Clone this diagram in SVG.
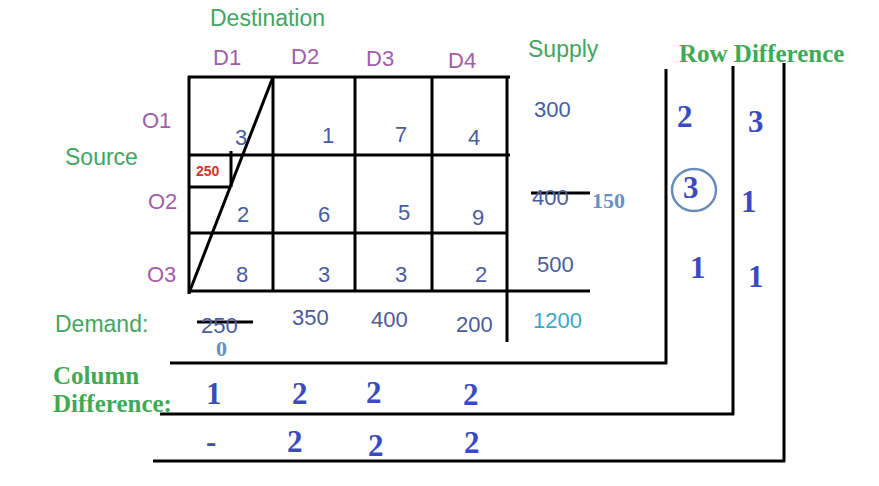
<svg xmlns="http://www.w3.org/2000/svg" width="879" height="486" viewBox="0 0 879 486">
<style>
.lbl{font-family:"Liberation Sans",Arial,sans-serif;font-size:23px;fill:#45a45f}
.hd{font-family:"Liberation Sans",Arial,sans-serif;font-size:22px;fill:#a35ca8}
.num{font-family:"Liberation Sans",Arial,sans-serif;font-size:22px;fill:#4b5c9e}
.bg{font-family:"Liberation Serif","Times New Roman",serif;font-weight:bold;font-size:25px;fill:#3faa55}
.bd{font-family:"Liberation Serif","Times New Roman",serif;font-weight:bold;font-size:31px;fill:#3a4bbf}
.lt{font-family:"Liberation Serif","Times New Roman",serif;font-weight:bold;font-size:22px;fill:#6b8fc0}
.ln{stroke:#000;stroke-width:3;fill:none}
</style>
<rect width="879" height="486" fill="#fff"/>
<g id="connectors">
<path class="ln" d="M188,77H510M188,155H510M188,233H507M188,291H590"/>
<path class="ln" d="M189,76V294M273,77V291M355,77V291M432,77V291M507,77V342"/>
<path class="ln" d="M273,77L189,293"/>
<path class="ln" d="M231,151V187M188,187H231"/>
<path class="ln" d="M170,363H667M666,69V364M160,414H734M733,66V415M153,461H785M784,63V462"/>
<path class="ln" d="M197,322H253M531,193H590" stroke-width="2.5"/>
</g>
<g id="headers">
<text class="lbl" x="210" y="26">Destination</text>
<text class="hd" x="213" y="65">D1</text>
<text class="hd" x="291" y="64">D2</text>
<text class="hd" x="366" y="66">D3</text>
<text class="hd" x="448" y="68">D4</text>
<text class="lbl" x="528" y="57">Supply</text>
<text class="lbl" x="65" y="165">Source</text>
<text class="hd" x="142" y="128">O1</text>
<text class="hd" x="148" y="209">O2</text>
<text class="hd" x="147" y="282">O3</text>
<text class="lbl" x="55" y="332">Demand:</text>
</g>
<g id="cells">
<text class="num" x="235" y="145">3</text>
<text class="num" x="322" y="143">1</text>
<text class="num" x="395" y="142">7</text>
<text class="num" x="468" y="145">4</text>
<text class="num" x="237" y="222">2</text>
<text class="num" x="318" y="222">6</text>
<text class="num" x="398" y="220">5</text>
<text class="num" x="472" y="225">9</text>
<text class="num" x="236" y="282">8</text>
<text class="num" x="318" y="282">3</text>
<text class="num" x="395" y="282">3</text>
<text class="num" x="475" y="282">2</text>
<text x="196" y="176" style="font-family:'Liberation Sans',Arial,sans-serif;font-weight:bold;font-size:14px;fill:#d9302c">250</text>
</g>
<g id="supply">
<text class="num" x="534" y="117">300</text>
<text class="num" x="532" y="205">400</text>
<text class="lt" x="592" y="208">150</text>
<text class="num" x="537" y="272">500</text>
</g>
<g id="demand">
<text class="num" x="201" y="333">250</text>
<text class="lt" x="216" y="356">0</text>
<text class="num" x="292" y="325">350</text>
<text class="num" x="371" y="327">400</text>
<text class="num" x="456" y="332">200</text>
<text class="num" x="533" y="328" style="fill:#3ba8c8">1200</text>
</g>
<g id="row-difference">
<text class="bg" x="679" y="62">Row Difference</text>
<text class="bd" x="677" y="127">2</text>
<text class="bd" x="748" y="132">3</text>
<ellipse cx="694" cy="190" rx="22" ry="21" fill="none" stroke="#6a8cb8" stroke-width="2.5"/>
<text class="bd" x="683" y="198">3</text>
<text class="bd" x="741" y="212">1</text>
<text class="bd" x="690" y="278">1</text>
<text class="bd" x="748" y="287">1</text>
</g>
<g id="column-difference">
<text class="bg" x="53" y="384">Column</text>
<text class="bg" x="53" y="412">Difference:</text>
<text class="bd" x="206" y="404">1</text>
<text class="bd" x="292" y="404">2</text>
<text class="bd" x="366" y="403">2</text>
<text class="bd" x="463" y="405">2</text>
<text class="bd" x="206" y="452">-</text>
<text class="bd" x="287" y="452">2</text>
<text class="bd" x="368" y="456">2</text>
<text class="bd" x="464" y="453">2</text>
</g>
</svg>
